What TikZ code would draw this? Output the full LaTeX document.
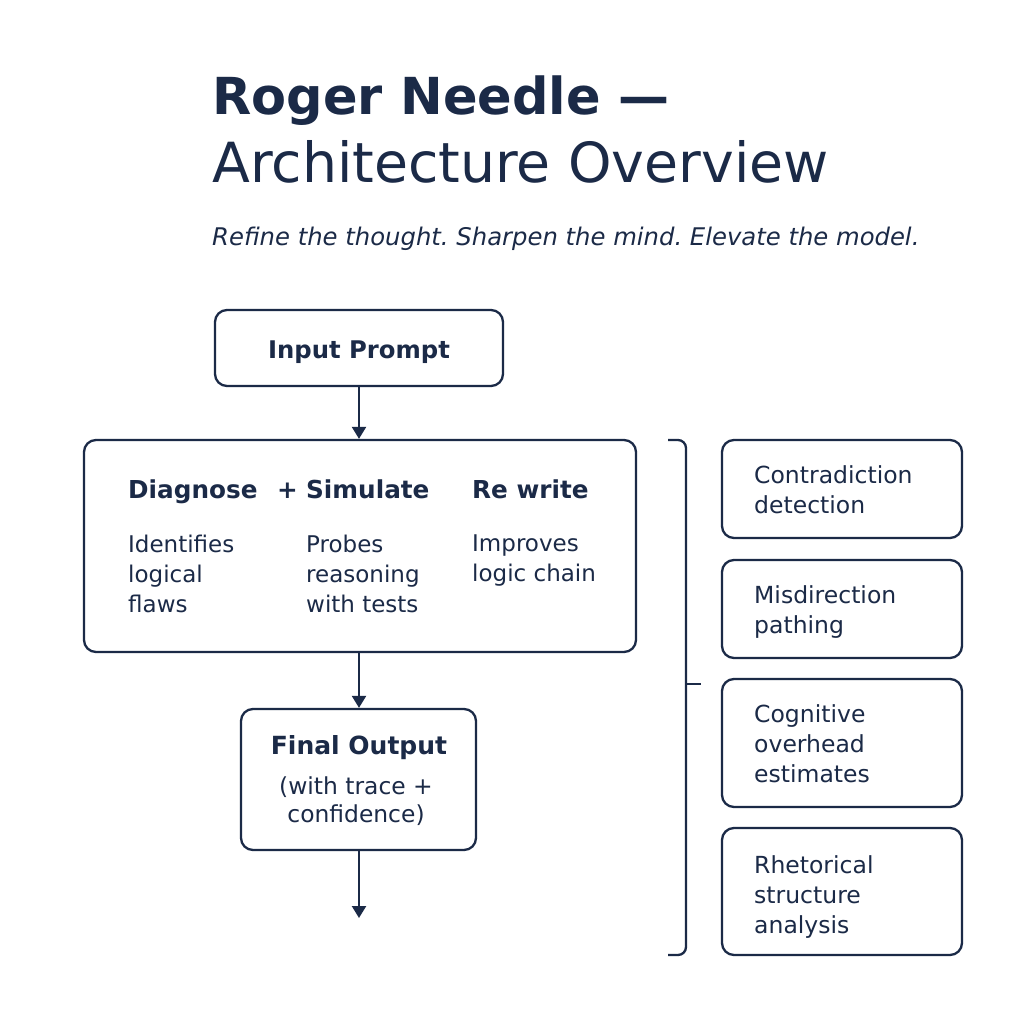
\documentclass[tikz,border=0pt]{standalone}
\usepackage{fontspec}
\setmainfont{DejaVu Sans}
\usetikzlibrary{arrows.meta}
\definecolor{navy}{HTML}{1B2A47}
\frenchspacing
\begin{document}
\begin{tikzpicture}[x=1pt,y=-1pt,
  every node/.style={text=navy},
  box/.style={draw=navy,line width=2.3pt,rounded corners=12pt,fill=white},
  conn/.style={draw=navy,line width=2.3pt,-{Triangle[length=12pt,width=14pt]}},
  head/.style={font=\fontsize{24.7}{30}\selectfont\bfseries,anchor=base west,inner sep=0pt},
  body/.style={font=\fontsize{23}{30}\selectfont,anchor=north west,inner sep=0pt,align=left},
  side/.style={font=\fontsize{23.5}{30}\selectfont,anchor=north west,inner sep=0pt,align=left}]
\useasboundingbox[fill=white] (0,0) rectangle (1024,1024);
% title
\node[anchor=base west,inner sep=0pt,font=\fontsize{51}{60}\selectfont\bfseries] (t1) at (212,115) {Roger Needle —};
\node[anchor=base west,inner sep=0pt,font=\fontsize{55.3}{60}\selectfont] (t2) at (212,183) {Architecture Overview};
\node[anchor=base west,inner sep=0pt,font=\fontsize{24.3}{28}\selectfont\itshape] (t3) at (212,245) {Refine the thought. Sharpen the mind. Elevate the model.};
% input
\node[box,minimum width=288pt,minimum height=76pt] (inp) at (359,348) {};
\node[anchor=base,inner sep=0pt,font=\fontsize{24.3}{28}\selectfont\bfseries] (inpt) at (359,358) {Input Prompt};
% main
\node[box,minimum width=552pt,minimum height=212pt] (main) at (360,546) {};
\node[head] (h1) at (128,498) {Diagnose};
\node[head] (hp) at (277,498) {+};
\node[head] (h2) at (306,498) {Simulate};
\node[head] (h3) at (472,498) {Re write};
\node[body] (b1) at (128,534.5) {Identifies\\logical\\flaws};
\node[body] (b2) at (306,534.5) {Probes\\reasoning\\with tests};
\node[body] (b3) at (472,534.5) {Improves\\logic chain};
% final
\node[box,minimum width=235pt,minimum height=141pt] (fin) at (358.5,779.5) {};
\node[anchor=base,inner sep=0pt,font=\fontsize{25}{30}\selectfont\bfseries] (f1) at (359,754) {Final Output};
\node[anchor=north,inner sep=0pt,font=\fontsize{23.4}{28}\selectfont,align=center] (f2) at (356,777) {(with trace +\\confidence)};
\coordinate (end) at (359,918);
% connectors
\draw[conn] (inp.south) -- (main.north -| inp.south);
\draw[conn] (main.south -| inp.south) -- (fin.north -| inp.south);
\draw[conn] (fin.south -| inp.south) -- (end);
% side boxes
\node[box,minimum width=240pt,minimum height=98pt] (s1) at (842,489) {};
\node[box,minimum width=240pt,minimum height=98pt] (s2) at (842,609) {};
\node[box,minimum width=240pt,minimum height=128pt] (s3) at (842,743) {};
\node[box,minimum width=240pt,minimum height=127pt] (s4) at (842,891.5) {};
\node[side] (st1) at (754,465) {Contradiction\\detection};
\node[side] (st2) at (754,585) {Misdirection\\pathing};
\node[side] (st3) at (754,704) {Cognitive\\overhead\\estimates};
\node[side] (st4) at (754,855) {Rhetorical\\structure\\analysis};
% bracket
\coordinate (bt) at (668,440);
\coordinate (bb) at (668,955);
\coordinate (bm) at (686,684);
\coordinate (bmr) at (701,684);
\draw[navy,line width=2.3pt,rounded corners=8pt] (bt) -- (686,440) -- (686,955) -- (bb);
\draw[navy,line width=2.3pt] (bm) -- (bmr);
\end{tikzpicture}
\end{document}
